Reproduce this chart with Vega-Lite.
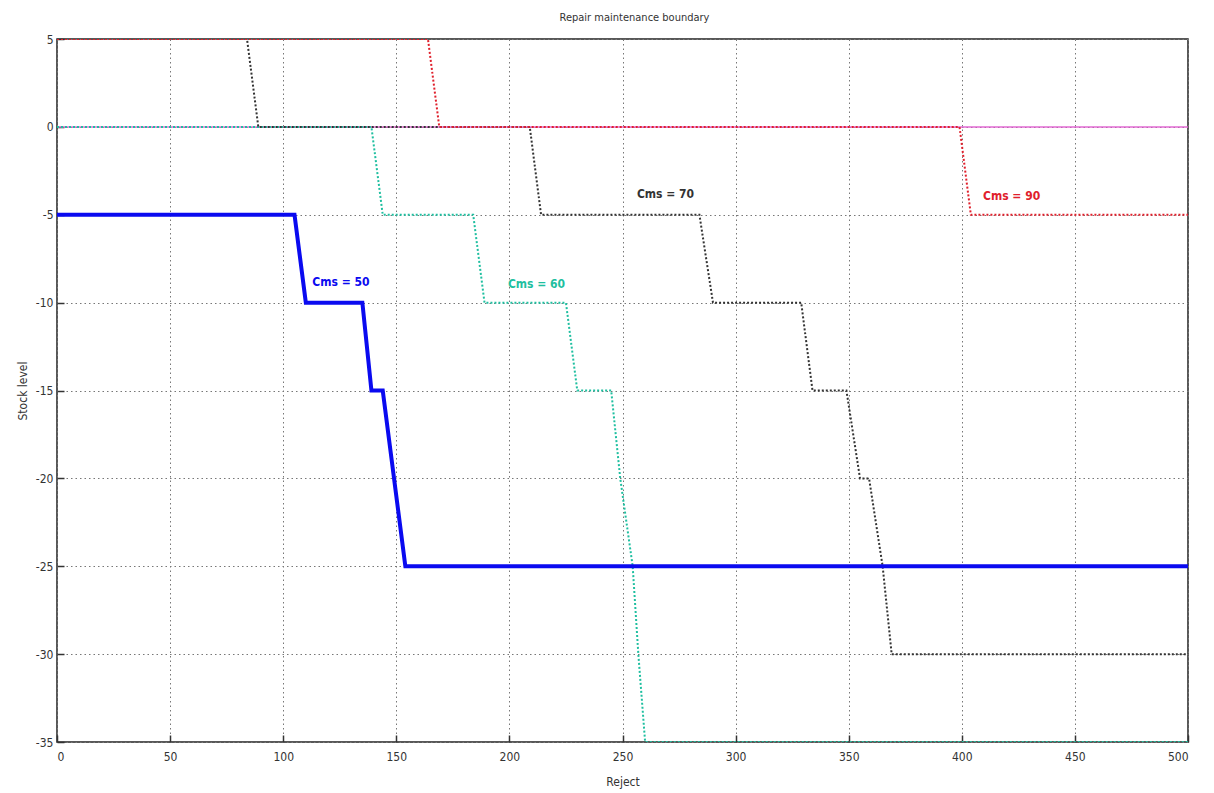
{
  "$schema": "https://vega.github.io/schema/vega-lite/v6.json",
  "width": 1131,
  "height": 703,
  "autosize": {"type": "none"},
  "padding": {"left": 57, "top": 39, "right": 26, "bottom": 51},
  "background": "white",
  "title": {"text": "Repair maintenance boundary", "fontSize": 11, "fontWeight": "normal", "font": "DejaVu Sans Condensed, sans-serif", "color": "#333", "anchor": "middle", "offset": 10, "dx": 12},
  "config": {
    "view": {"stroke": "#222", "strokeWidth": 1.5},
    "axis": {
      "grid": true, "gridColor": "#777", "gridDash": [1.5, 3], "gridWidth": 1,
      "domain": false, "tickColor": "#333", "tickSize": -7, "tickWidth": 1.5,
      "labelFont": "DejaVu Sans Condensed, sans-serif", "labelFontSize": 12, "labelColor": "#333",
      "titleFont": "DejaVu Sans Condensed, sans-serif", "titleFontSize": 12, "titleFontWeight": "normal", "titleColor": "#333",
      "labelExpr": "'' + datum.value"
    }
  },
  "datasets": {
    "curves": [
      {"series": "base", "i": 0, "reject": 0, "stock": 0},
      {"series": "base", "i": 1, "reject": 500, "stock": 0},
      {"series": "Cms = 50", "i": 0, "reject": 0, "stock": -5},
      {"series": "Cms = 50", "i": 1, "reject": 105, "stock": -5},
      {"series": "Cms = 50", "i": 2, "reject": 110, "stock": -10},
      {"series": "Cms = 50", "i": 3, "reject": 135, "stock": -10},
      {"series": "Cms = 50", "i": 4, "reject": 139, "stock": -15},
      {"series": "Cms = 50", "i": 5, "reject": 144, "stock": -15},
      {"series": "Cms = 50", "i": 6, "reject": 154, "stock": -25},
      {"series": "Cms = 50", "i": 7, "reject": 500, "stock": -25},
      {"series": "Cms = 60", "i": 0, "reject": 0, "stock": 0},
      {"series": "Cms = 60", "i": 1, "reject": 139, "stock": 0},
      {"series": "Cms = 60", "i": 2, "reject": 144, "stock": -5},
      {"series": "Cms = 60", "i": 3, "reject": 184, "stock": -5},
      {"series": "Cms = 60", "i": 4, "reject": 189, "stock": -10},
      {"series": "Cms = 60", "i": 5, "reject": 225, "stock": -10},
      {"series": "Cms = 60", "i": 6, "reject": 230, "stock": -15},
      {"series": "Cms = 60", "i": 7, "reject": 245, "stock": -15},
      {"series": "Cms = 60", "i": 8, "reject": 249, "stock": -20},
      {"series": "Cms = 60", "i": 9, "reject": 254.5, "stock": -25},
      {"series": "Cms = 60", "i": 10, "reject": 257, "stock": -30},
      {"series": "Cms = 60", "i": 11, "reject": 260, "stock": -35},
      {"series": "Cms = 60", "i": 12, "reject": 500, "stock": -35},
      {"series": "Cms = 70", "i": 0, "reject": 0, "stock": 5},
      {"series": "Cms = 70", "i": 1, "reject": 84, "stock": 5},
      {"series": "Cms = 70", "i": 2, "reject": 89, "stock": 0},
      {"series": "Cms = 70", "i": 3, "reject": 209, "stock": 0},
      {"series": "Cms = 70", "i": 4, "reject": 214, "stock": -5},
      {"series": "Cms = 70", "i": 5, "reject": 284, "stock": -5},
      {"series": "Cms = 70", "i": 6, "reject": 290, "stock": -10},
      {"series": "Cms = 70", "i": 7, "reject": 329, "stock": -10},
      {"series": "Cms = 70", "i": 8, "reject": 334, "stock": -15},
      {"series": "Cms = 70", "i": 9, "reject": 349, "stock": -15},
      {"series": "Cms = 70", "i": 10, "reject": 355, "stock": -20},
      {"series": "Cms = 70", "i": 11, "reject": 359, "stock": -20},
      {"series": "Cms = 70", "i": 12, "reject": 365, "stock": -25},
      {"series": "Cms = 70", "i": 13, "reject": 369, "stock": -30},
      {"series": "Cms = 70", "i": 14, "reject": 500, "stock": -30},
      {"series": "Cms = 90", "i": 0, "reject": 0, "stock": 5},
      {"series": "Cms = 90", "i": 1, "reject": 164, "stock": 5},
      {"series": "Cms = 90", "i": 2, "reject": 169, "stock": 0},
      {"series": "Cms = 90", "i": 3, "reject": 399, "stock": 0},
      {"series": "Cms = 90", "i": 4, "reject": 404, "stock": -5},
      {"series": "Cms = 90", "i": 5, "reject": 500, "stock": -5}
    ],
    "labels": [
      {"series": "Cms = 50", "reject": 125.5, "stock": -8.8},
      {"series": "Cms = 60", "reject": 212, "stock": -8.95},
      {"series": "Cms = 70", "reject": 269, "stock": -3.8},
      {"series": "Cms = 90", "reject": 422, "stock": -3.95}
    ]
  },
  "encoding": {
    "x": {"field": "reject", "type": "quantitative", "scale": {"domain": [0, 500], "nice": false}, "axis": {"values": [0, 50, 100, 150, 200, 250, 300, 350, 400, 450, 500], "title": "Reject", "titlePadding": 14, "labelPadding": 16}},
    "y": {"field": "stock", "type": "quantitative", "scale": {"domain": [-35, 5], "nice": false}, "axis": {"values": [5, 0, -5, -10, -15, -20, -25, -30, -35], "title": "Stock level", "titlePadding": 6, "labelPadding": 11}},
    "color": {"field": "series", "type": "nominal", "legend": null, "scale": {"domain": ["base", "Cms = 50", "Cms = 60", "Cms = 70", "Cms = 90"], "range": ["#e060d0", "#0a0af0", "#1fbfa0", "#333333", "#e0202c"]}}
  },
  "layer": [
    {"data": {"name": "curves"}, "transform": [{"filter": "datum.series === 'base'"}], "mark": {"type": "line", "strokeWidth": 2, "opacity": 0.7, "clip": true}, "encoding": {"order": {"field": "i"}}},
    {"data": {"name": "curves"}, "transform": [{"filter": "datum.series !== 'base' && datum.series !== 'Cms = 50'"}], "mark": {"type": "line", "strokeWidth": 2, "strokeDash": [2, 2], "clip": true}, "encoding": {"detail": {"field": "series"}, "order": {"field": "i"}}},
    {"data": {"name": "curves"}, "transform": [{"filter": "datum.series === 'Cms = 50'"}], "mark": {"type": "line", "strokeWidth": 4, "clip": true}, "encoding": {"order": {"field": "i"}}},
    {"data": {"name": "labels"}, "mark": {"type": "text", "font": "DejaVu Sans Condensed, sans-serif", "fontSize": 12, "fontWeight": "bold", "align": "center", "baseline": "middle"}, "encoding": {"text": {"field": "series"}}}
  ]
}
